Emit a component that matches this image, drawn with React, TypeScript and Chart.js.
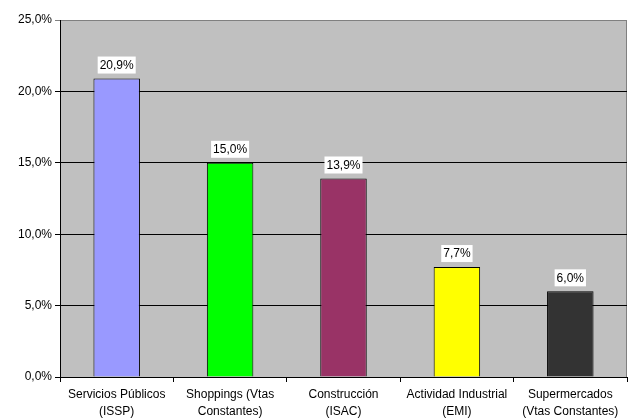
import React, { useEffect, useRef } from "react";
import { Chart, registerables } from "chart.js";

Chart.register(...registerables);

const categories: string[][] = [
  ["Servicios Públicos", "(ISSP)"],
  ["Shoppings (Vtas", "Constantes)"],
  ["Construcción", "(ISAC)"],
  ["Actividad Industrial", "(EMI)"],
  ["Supermercados", "(Vtas Constantes)"],
];
const values: number[] = [20.9, 15.0, 13.9, 7.7, 6.0];
const barColors: string[] = ["#9999FF", "#00FF00", "#993366", "#FFFF00", "#333333"];

const fmt = (v: number) => v.toFixed(1).replace(".", ",") + "%";
const FONT = "'Liberation Sans', Arial, sans-serif";

const bgPlugin = {
  id: "bgPlugin",
  beforeDraw(chart: any) {
    const { ctx, chartArea } = chart;
    ctx.save();
    ctx.fillStyle = "#C0C0C0";
    ctx.fillRect(chartArea.left, chartArea.top, chartArea.right - chartArea.left, chartArea.bottom - chartArea.top);
    ctx.strokeStyle = "#808080";
    ctx.lineWidth = 1;
    ctx.strokeRect(chartArea.left + 0.5, chartArea.top + 0.5, chartArea.right - chartArea.left - 1, chartArea.bottom - chartArea.top);
    ctx.restore();
  },
};

const labelPlugin = {
  id: "labelPlugin",
  afterDatasetsDraw(chart: any) {
    const { ctx } = chart;
    const meta = chart.getDatasetMeta(0);
    ctx.save();
    ctx.font = `12px ${FONT}`;
    ctx.textAlign = "center";
    ctx.textBaseline = "middle";
    meta.data.forEach((el: any, i: number) => {
      const text = fmt(values[i]);
      const w = ctx.measureText(text).width + 4;
      const h = 17;
      const cy = el.y - 13.5;
      ctx.fillStyle = "#FFFFFF";
      ctx.fillRect(el.x - w / 2, cy - h / 2, w, h);
      ctx.fillStyle = "#000000";
      ctx.fillText(text, el.x, cy + 0.5);
    });
    ctx.restore();
  },
};

export default function App() {
  const ref = useRef<HTMLCanvasElement>(null);
  useEffect(() => {
    document.body.style.margin = "0";
    const chart = new Chart(ref.current!, {
      type: "bar",
      data: {
        labels: categories,
        datasets: [
          {
            data: values,
            backgroundColor: barColors,
            borderColor: "#000000",
            borderWidth: 1,
            barPercentage: 0.41,
            categoryPercentage: 1,
          },
        ],
      },
      options: {
        animation: false,
        responsive: false,
        layout: { padding: { top: 20, right: 5, left: 0, bottom: 0 } },
        plugins: { legend: { display: false }, tooltip: { enabled: false } },
        scales: {
          x: {
            grid: {
              display: true,
              drawOnChartArea: false,
              drawTicks: true,
              tickLength: 5,
              color: "#000000",
              offset: true,
            },
            border: { color: "#000000", width: 1 },
            ticks: {
              color: "#000000",
              font: { family: FONT, size: 12, lineHeight: 1.4 },
              maxRotation: 0,
              autoSkip: false,
              padding: 4,
            },
            afterFit(scale: any) {
              scale.height = 43;
            },
          },
          y: {
            min: 0,
            max: 25,
            ticks: {
              stepSize: 5,
              color: "#000000",
              font: { family: FONT, size: 12 },
              callback: (v: any) => fmt(Number(v)),
              padding: 3,
            },
            grid: {
              color: (c: any) => (c.tick && c.tick.value === 25 ? "#808080" : "#000000"),
              drawTicks: true,
              tickLength: 5,
            },
            border: { color: "#000000", width: 1 },
            afterFit(scale: any) {
              scale.width = 60;
            },
          },
        },
      },
      plugins: [bgPlugin, labelPlugin],
    });
    return () => chart.destroy();
  }, []);
  return <canvas ref={ref} width={632} height={420} style={{ display: "block" }} />;
}
